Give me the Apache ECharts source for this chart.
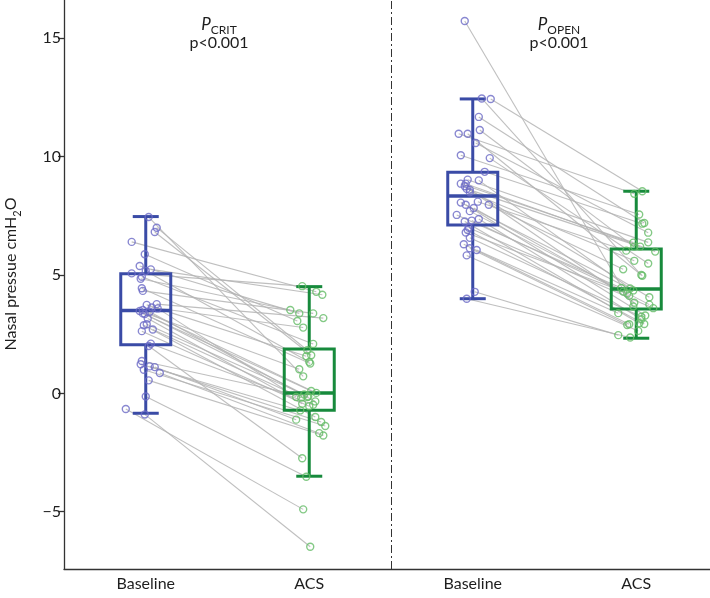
<!DOCTYPE html>
<html>
<head>
<meta charset="utf-8">
<script src="https://cdn.jsdelivr.net/npm/echarts@6/dist/echarts.min.js"></script>
<style>
  html, body { margin: 0; padding: 0; background: #fff; }
  #chart { width: 710px; height: 598px; }
</style>
</head>
<body>
<div id="chart"></div>
<script>
const categories = ["Baseline", "ACS", "Baseline", "ACS"];
const yTicks = [-5, 0, 5, 10, 15];

// P_CRIT, paired by subject
const critBase = [7.45, 7.0, 6.82, 6.4, 5.88, 5.38, 5.24, 5.17, 5.07, 4.93, 4.84, 4.44, 4.33, 3.77, 3.74, 3.63, 3.59, 3.52, 3.48, 3.45, 3.38, 3.35, 3.16, 2.92, 2.88, 2.70, 2.63, 2.1, 2.0, 1.37, 1.23, 1.14, 1.11, 1.0, 0.86, 0.55, -0.13, -0.66, -0.89];
const critAcs = [0.72, 1.82, 1.61, 4.29, 3.06, 3.38, 4.17, 1.33, 4.53, 2.09, 3.52, 1.26, 3.38, 3.18, 1.57, 2.78, -0.15, 0.02, 1.02, -0.34, 0.1, -0.13, -0.44, -0.05, -1.0, -0.18, -0.54, -0.48, -2.74, -0.15, -0.72, -1.21, -1.11, -1.38, -1.68, -1.78, -3.52, -4.9, -6.48];
const critBaseJit = [0.018, 0.067, 0.055, -0.086, -0.006, -0.037, 0.031, 0, -0.086, -0.024, -0.031, -0.024, -0.018, 0.067, 0.006, 0.037, 0.073, -0.018, -0.037, 0.024, -0.018, -0.006, 0.012, 0.006, -0.012, 0.043, -0.024, 0.031, 0.018, -0.024, -0.031, 0.024, 0.055, -0.012, 0.086, 0.018, 0, -0.122, -0.006];
const critAcsJit = [-0.037, -0.012, 0.012, 0.043, -0.073, -0.061, 0.080, 0, -0.043, 0.024, -0.116, 0.006, 0.024, 0.086, -0.018, -0.037, -0.080, 0.043, -0.061, 0.037, 0.012, -0.006, -0.043, -0.031, 0.037, -0.049, 0, 0.024, -0.043, -0.012, -0.055, 0.073, -0.080, 0.098, 0.061, 0.086, -0.018, -0.037, 0.006];

// P_OPEN, paired by subject
const openBase = [15.73, 12.46, 12.44, 11.68, 11.13, 10.97, 10.97, 10.58, 10.06, 9.94, 9.36, 9.03, 9.0, 8.86, 8.86, 8.75, 8.64, 8.6, 8.5, 8.1, 8.06, 7.97, 7.97, 7.83, 7.7, 7.54, 7.37, 7.3, 7.26, 7.0, 6.9, 6.8, 6.57, 6.3, 6.13, 6.06, 5.83, 4.29, 4.0];
const openAcs = [3.67, 5.0, 8.54, 7.2, 6.2, 8.43, 4.97, 6.79, 7.56, 5.49, 7.17, 6.38, 4.43, 6.37, 5.99, 3.83, 6.2, 4.06, 5.6, 6.03, 4.35, 3.29, 5.24, 4.12, 3.75, 4.45, 3.13, 4.22, 2.96, 3.6, 2.93, 4.30, 3.24, 2.92, 2.89, 3.39, 2.64, 2.46, 2.36];
const openBaseJit = [-0.049, 0.055, 0.110, 0.037, 0.043, -0.086, -0.031, 0.018, -0.073, 0.104, 0.073, -0.031, 0.037, -0.073, -0.043, -0.049, -0.037, -0.018, -0.018, 0.031, -0.073, -0.043, 0.098, 0.006, -0.018, -0.098, 0.037, -0.006, -0.049, -0.024, -0.031, -0.043, -0.018, -0.055, -0.018, 0.024, -0.037, 0.012, -0.037];
const openAcsJit = [-0.018, 0.031, 0.037, 0.049, -0.012, -0.012, 0.037, 0.073, 0.018, 0.073, 0.037, 0.073, -0.037, -0.018, 0.116, -0.012, 0.024, 0.080, -0.012, -0.061, -0.018, 0.055, -0.080, -0.043, 0.080, -0.092, 0.031, -0.055, 0.018, 0.104, 0.049, -0.080, 0.031, -0.043, -0.055, -0.110, 0.012, -0.110, -0.037];

// box stats: [min whisker, Q1, median, Q3, max whisker]
const critBaseBox = [-0.84, 2.05, 3.50, 5.05, 7.47];
const critAcsBox = [-3.50, -0.71, 0.02, 1.87, 4.51];
const openBaseBox = [4.0, 7.11, 8.34, 9.34, 12.44];
const openAcsBox = [2.33, 3.56, 4.41, 6.10, 8.54];

const BLUE = "#3a4ba6", GREEN = "#178a3c";
const BLUE_PT = "#6c6ac6", GREEN_PT = "#64bb66";
const FONT = "Lato";
const INK = "#1e1e1e";

function points(vals, jit, pos) {
    return vals.map((v, i) => [pos + jit[i], v]);
}
function pairLines(base, bJit, bPos, acs, aJit, aPos) {
    return base.map((v, i) => ({ coords: [[bPos + bJit[i], v], [aPos + aJit[i], acs[i]]] }));
}

const boxes = [
    [1].concat(critBaseBox), [2].concat(critAcsBox),
    [3].concat(openBaseBox), [4].concat(openAcsBox)
];
const boxColors = [BLUE, GREEN, BLUE, GREEN];

function renderBox(params, api) {
    const x = api.value(0);
    const lo = api.coord([x, api.value(1)]);
    const q1 = api.coord([x, api.value(2)]);
    const md = api.coord([x, api.value(3)]);
    const q3 = api.coord([x, api.value(4)]);
    const hi = api.coord([x, api.value(5)]);
    const cx = lo[0], hw = 25, cw = 13;
    const style = { stroke: boxColors[params.dataIndex], lineWidth: 3, fill: null };
    return {
        type: "group",
        children: [
            { type: "line", shape: { x1: cx, y1: q3[1], x2: cx, y2: hi[1] }, style: style },
            { type: "line", shape: { x1: cx, y1: q1[1], x2: cx, y2: lo[1] }, style: style },
            { type: "line", shape: { x1: cx - cw, y1: hi[1], x2: cx + cw, y2: hi[1] }, style: style },
            { type: "line", shape: { x1: cx - cw, y1: lo[1], x2: cx + cw, y2: lo[1] }, style: style },
            { type: "rect", shape: { x: cx - hw, y: q3[1], width: hw * 2, height: q1[1] - q3[1] }, style: style },
            { type: "line", shape: { x1: cx - hw, y1: md[1], x2: cx + hw, y2: md[1] }, style: Object.assign({}, style, { lineWidth: 3.5 }) }
        ]
    };
}

function subLabel(main, sub) {
    return {
        text: "{p|" + main + "}{s|" + sub + "}\n{t|p<0.001}",
        align: "center",
        verticalAlign: "middle",
        rich: {
            p: { fontSize: 17, fontStyle: "italic", fontFamily: FONT, fill: INK, lineHeight: 19, verticalAlign: "bottom" },
            s: { fontSize: 12, fontFamily: FONT, fill: INK, lineHeight: 19, verticalAlign: "bottom", padding: [0, 0, -3, 0] },
            t: { fontSize: 16, fontFamily: FONT, fill: INK, lineHeight: 19 }
        }
    };
}

const chart = echarts.init(document.getElementById("chart"));
const option = {
    backgroundColor: "#fff",
    animation: false,
    grid: { left: 64, right: -8, top: 0, bottom: 29, containLabel: false, outerBoundsMode: "none" },
    xAxis: [
        {
            type: "category",
            data: categories,
            boundaryGap: true,
            axisLine: { onZero: false, lineStyle: { color: "#333", width: 1.3 } },
            axisTick: { alignWithLabel: true, length: 6, lineStyle: { color: "#333", width: 1.3 } },
            axisLabel: { color: INK, fontSize: 16, fontFamily: FONT, margin: 7 },
            splitLine: { show: false }
        },
        {
            type: "value",
            min: 0.5,
            max: 4.5,
            show: false
        }
    ],
    yAxis: {
        type: "value",
        min: -7.42,
        max: 16.62,
        axisLine: { show: true, onZero: false, lineStyle: { color: "#333", width: 1.3 } },
        axisTick: { show: true, length: 6, customValues: yTicks, lineStyle: { color: "#333", width: 1.3 } },
        axisLabel: {
            customValues: yTicks,
            color: INK,
            fontSize: 16,
            fontFamily: FONT,
            margin: 3,
            formatter: (v) => String(v).replace("-", "\u2212")
        },
        splitLine: { show: false }
    },
    graphic: [
        {
            type: "text",
            x: 9, y: 274,
            rotation: Math.PI / 2,
            style: {
                text: "{a|Nasal pressue cmH}{s|2}{a|O}",
                align: "center",
                verticalAlign: "middle",
                rich: {
                    a: { fontSize: 16, fontFamily: FONT, fill: INK, lineHeight: 20, verticalAlign: "bottom" },
                    s: { fontSize: 11, fontFamily: FONT, fill: INK, lineHeight: 20, verticalAlign: "bottom", padding: [0, 0, -4, 0] }
                }
            }
        },
        { type: "text", x: 219, y: 33, style: subLabel("P", "CRIT") },
        { type: "text", x: 559, y: 33, style: subLabel("P", "OPEN") }
    ],
    series: [
        {
            type: "lines",
            coordinateSystem: "cartesian2d",
            xAxisIndex: 1,
            yAxisIndex: 0,
            silent: true,
            z: 1,
            lineStyle: { color: "#b4b4b4", width: 1.1, opacity: 0.85 },
            data: pairLines(critBase, critBaseJit, 1, critAcs, critAcsJit, 2)
                .concat(pairLines(openBase, openBaseJit, 3, openAcs, openAcsJit, 4))
        },
        {
            type: "custom",
            xAxisIndex: 1,
            yAxisIndex: 0,
            silent: true,
            z: 2,
            renderItem: renderBox,
            encode: { x: 0, y: [1, 2, 3, 4, 5] },
            data: boxes,
            markLine: {
                silent: true,
                symbol: "none",
                label: { show: false },
                lineStyle: { color: "#333", width: 1, type: [8, 3, 2, 3] },
                data: [{ xAxis: 2.5 }]
            }
        },
        {
            type: "scatter",
            xAxisIndex: 1,
            yAxisIndex: 0,
            z: 3,
            symbol: "circle",
            symbolSize: 7,
            itemStyle: { color: "transparent", borderColor: BLUE_PT, borderWidth: 1.4 },
            data: points(critBase, critBaseJit, 1).concat(points(openBase, openBaseJit, 3))
        },
        {
            type: "scatter",
            xAxisIndex: 1,
            yAxisIndex: 0,
            z: 3,
            symbol: "circle",
            symbolSize: 7,
            itemStyle: { color: "transparent", borderColor: GREEN_PT, borderWidth: 1.4 },
            data: points(critAcs, critAcsJit, 2).concat(points(openAcs, openAcsJit, 4))
        }
    ]
};
chart.setOption(option);
</script>
</body>
</html>
